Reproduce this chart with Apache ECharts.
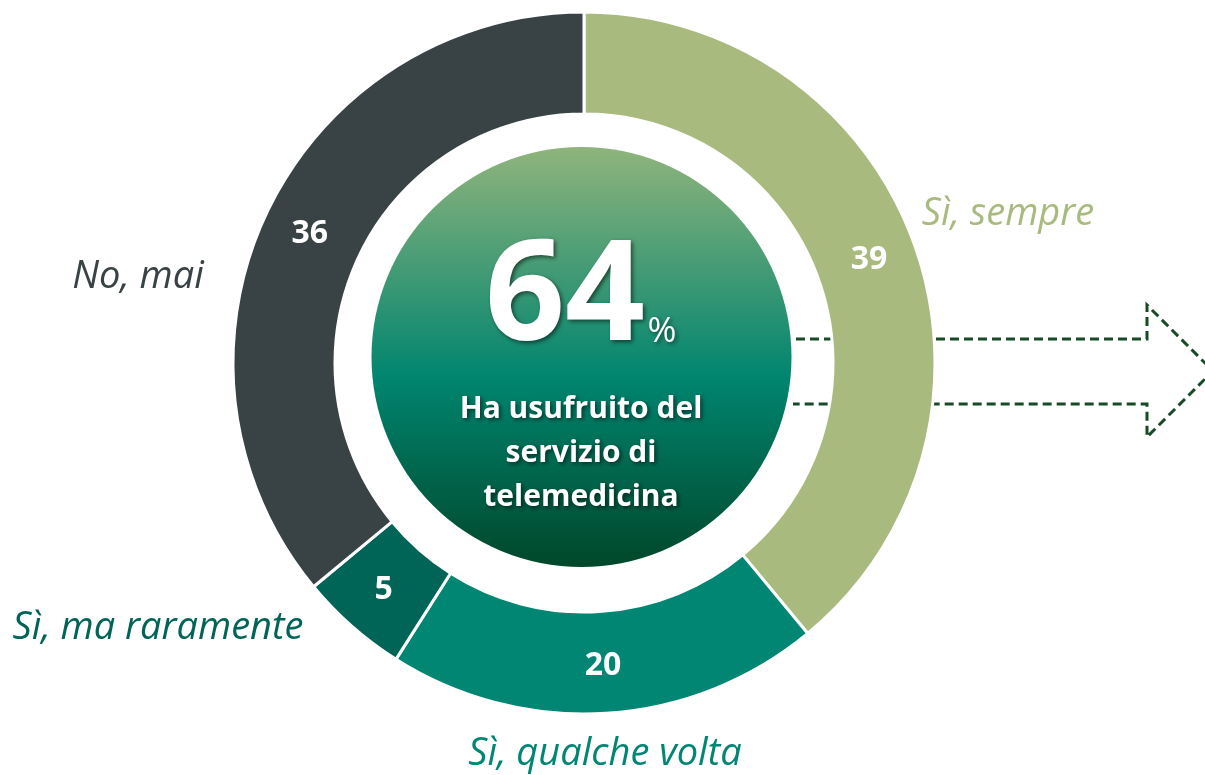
<!DOCTYPE html>
<html>
<head>
<meta charset="utf-8">
<script src="https://cdn.jsdelivr.net/npm/echarts@6/dist/echarts.min.js"></script>
<style>
  html, body { margin: 0; padding: 0; background: #fff; }
  #main { width: 1205px; height: 775px; }
</style>
</head>
<body>
<div id="main"></div>
<script>
// clockwise from the top
var categories = ['Sì, sempre', 'Sì, qualche volta', 'Sì, ma raramente', 'No, mai'];
var values = [39, 20, 5, 36];
var sliceColors = ['#A9BA7E', '#008673', '#006556', '#394345'];
var centerValue = '64';
var centerUnit = '%';
var centerCaption = ['Ha usufruito del', 'servizio di', 'telemedicina'];

// where the category names sit around the ring
var namePos = [[1008, 214], [605, 754], [158, 628], [138, 277]];

var font = '"Open Sans", sans-serif';
var myChart = echarts.init(document.getElementById('main'));

var shadow = { textShadowColor: 'rgba(0,0,0,0.55)', textShadowBlur: 4, textShadowOffsetX: 2, textShadowOffsetY: 2 };

var graphics = [];
// dashed arrow behind the ring
graphics.push({
  type: 'polyline',
  z: 0,
  shape: { points: [[796, 339], [1147, 339], [1147, 305], [1213, 371], [1147, 437], [1147, 404], [793, 404]] },
  style: { fill: null, stroke: '#174A26', lineWidth: 3, lineDash: [9, 5] }
});
// gradient disc in the middle
graphics.push({
  type: 'circle',
  z: 10,
  shape: { cx: 581.5, cy: 357, r: 210 },
  style: {
    fill: new echarts.graphic.LinearGradient(0, 0, 0, 1, [
      { offset: 0, color: '#8FB47C' },
      { offset: 0.55, color: '#00856F' },
      { offset: 1, color: '#00472A' }
    ])
  }
});
graphics.push({
  type: 'text', z: 11, x: 565, y: 300,
  style: Object.assign({ text: centerValue, fill: '#fff', font: 'bold 140px ' + font, align: 'center', verticalAlign: 'middle' }, shadow)
});
graphics.push({
  type: 'text', z: 11, x: 662, y: 332,
  style: Object.assign({ text: centerUnit, fill: '#fff', font: '35px ' + font, align: 'center', verticalAlign: 'middle' }, shadow)
});
centerCaption.forEach(function (line, i) {
  graphics.push({
    type: 'text', z: 11, x: 581, y: 409 + i * 44,
    style: Object.assign({ text: line, fill: '#fff', font: 'bold 30px ' + font, align: 'center', verticalAlign: 'middle' }, shadow)
  });
});
categories.forEach(function (name, i) {
  graphics.push({
    type: 'text', z: 11, x: namePos[i][0], y: namePos[i][1],
    style: { text: name, fill: sliceColors[i], font: 'italic 38px ' + font, align: 'center', verticalAlign: 'middle' }
  });
});

myChart.setOption({
  animation: false,
  graphic: graphics,
  series: [{
    type: 'pie',
    z: 2,
    center: [584, 363],
    radius: [249, 351],
    startAngle: 90,
    clockwise: true,
    silent: true,
    itemStyle: { borderColor: '#fff', borderWidth: 3 },
    label: {
      show: true,
      position: 'inside',
      formatter: '{c}',
      color: '#fff',
      fontFamily: font,
      fontWeight: 'bold',
      fontSize: 32
    },
    labelLine: { show: false },
    data: categories.map(function (name, i) {
      return { name: name, value: values[i], itemStyle: { color: sliceColors[i] } };
    })
  }]
});
</script>
</body>
</html>
